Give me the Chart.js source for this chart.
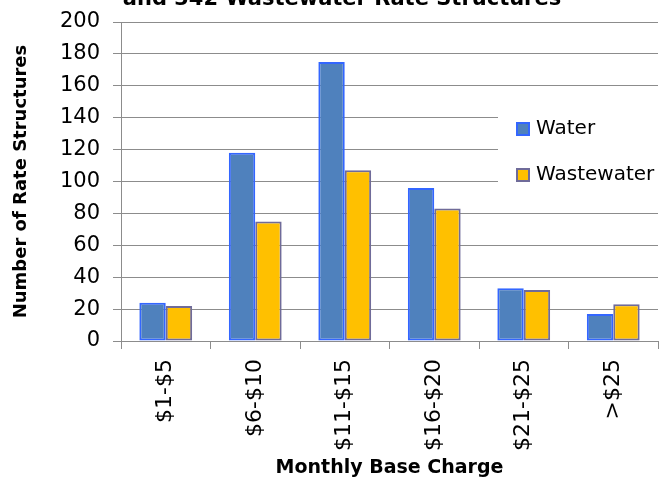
<!DOCTYPE html>
<html>
<head>
<meta charset="utf-8">
<script src="https://cdn.jsdelivr.net/npm/chart.js@4.4.1/dist/chart.umd.min.js"></script>
<style>
  body { margin: 0; background: #fff; }
  #wrap { width: 663px; height: 487px; position: relative; }
</style>
</head>
<body>
<div id="wrap"><canvas id="myChart"></canvas></div>
<script>
const ctx = document.getElementById('myChart');

// data
const categories = ['$1-$5', '$6-$10', '$11-$15', '$16-$20', '$21-$25', '>$25'];
const water = [24, 118, 175, 96, 33, 17];
const wastewater = [22, 75, 107, 83, 32, 23];
const yTicks = [0, 20, 40, 60, 80, 100, 120, 140, 160, 180, 200];

const FONT = 'DejaVu Sans';
const GRID = '#8c8c8c';

// title is cut off at the top of the picture, only the bottom of line 2 shows
const cutTitle = {
  id: 'cutTitle',
  afterDraw(chart) {
    const c = chart.ctx;
    c.save();
    c.font = 'bold 21px "' + FONT + '"';
    c.fillStyle = '#000';
    c.textAlign = 'center';
    c.textBaseline = 'alphabetic';
    c.fillText('and 342 Wastewater Rate Structures', 342, 5);
    c.restore();
  }
};

// legend sits over the plot with a white box
const boxLegend = {
  id: 'boxLegend',
  beforeDatasetsDraw(chart) {
    const c = chart.ctx;
    c.save();
    c.fillStyle = '#fff';
    c.fillRect(498, 98, 165, 100);
    chart.data.datasets.forEach((ds, i) => {
      const y = 122 + i * 46;
      c.fillStyle = ds.backgroundColor;
      c.fillRect(516, y, 14, 14);
      c.strokeStyle = ds.borderColor;
      c.lineWidth = 2;
      c.strokeRect(517, y + 1, 12, 12);
      c.fillStyle = '#000';
      c.font = '20px "' + FONT + '"';
      c.textBaseline = 'middle';
      c.textAlign = 'left';
      c.fillText(ds.label, 536, y + 7);
    });
    c.restore();
  }
};

new Chart(ctx, {
  type: 'bar',
  data: {
    labels: categories,
    datasets: [{
      label: 'Water',
      data: water,
      backgroundColor: '#4F81BD',
      borderColor: '#3366FF',
      borderWidth: 2,
      borderSkipped: false,
      inflateAmount: 0,
      categoryPercentage: 0.59,
      barPercentage: 1.0
    }, {
      label: 'Wastewater',
      data: wastewater,
      backgroundColor: '#FFC000',
      borderColor: '#6F6B99',
      borderWidth: 2,
      borderSkipped: false,
      inflateAmount: 0,
      categoryPercentage: 0.59,
      barPercentage: 1.0
    }]
  },
  options: {
    responsive: true,
    maintainAspectRatio: false,
    animation: false,
    layout: { padding: { top: 22, right: 5, left: 0, bottom: 0 } },
    plugins: {
      legend: { display: false },
      title: { display: false },
      tooltip: { enabled: false }
    },
    scales: {
      x: {
        offset: true,
        afterFit: (scale) => { scale.height = 146; },
        grid: { drawOnChartArea: false, offset: true, color: GRID, tickLength: 8 },
        border: { color: GRID },
        ticks: {
          autoSkip: false,
          minRotation: 90,
          maxRotation: 90,
          padding: 10,
          color: '#000',
          font: { family: FONT, size: 22 }
        },
        title: {
          display: true,
          text: 'Monthly Base Charge',
          color: '#000',
          font: { family: FONT, size: 19, weight: 'bold' },
          padding: { top: 0, bottom: 8 }
        }
      },
      y: {
        min: 0,
        max: 200,
        afterFit: (scale) => {
          scale.width = 121;
          scale.paddingTop = 0;
          scale.paddingBottom = 0;
        },
        afterBuildTicks: (scale) => { scale.ticks = yTicks.map(v => ({ value: v })); },
        grid: { color: GRID, tickLength: 8 },
        border: { color: GRID },
        ticks: {
          padding: 13,
          color: '#000',
          font: { family: FONT, size: 21 }
        },
        title: {
          display: true,
          text: 'Number of Rate Structures',
          color: '#000',
          font: { family: FONT, size: 18, weight: 'bold' },
          padding: { top: 11, bottom: 0 }
        }
      }
    }
  },
  plugins: [boxLegend, cutTitle]
});
</script>
</body>
</html>
